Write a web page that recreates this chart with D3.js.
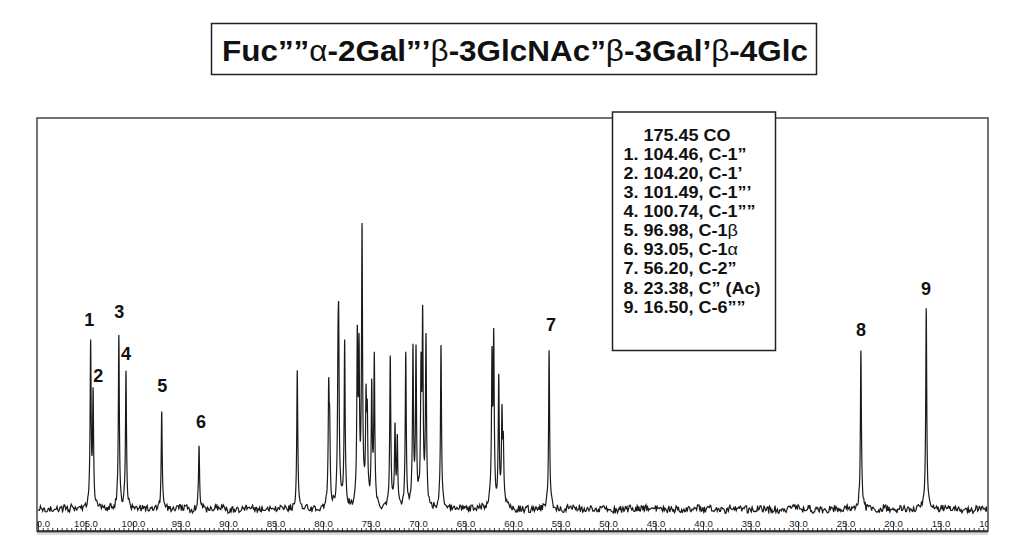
<!DOCTYPE html>
<html><head><meta charset="utf-8">
<script src="https://cdn.jsdelivr.net/npm/d3@7/dist/d3.min.js"></script>
<style>body{margin:0;background:#fff}svg{display:block}text{font-family:"Liberation Sans",Arial,sans-serif}</style>
</head><body>
<svg id="c" width="1024" height="558"></svg>
<script>
// ---------------- data ----------------
const titleParts = [["Fuc””",0],["α",1],["-2Gal”’",0],["β",1],["-3GlcNAc”",0],["β",1],["-3Gal’",0],["β",1],["-4Glc",0]];
const legendHeader = "175.45 CO";
const legendLines = [
  [["1. 104.46, C-1”",0]],
  [["2. 104.20, C-1’",0]],
  [["3. 101.49, C-1”’",0]],
  [["4. 100.74, C-1””",0]],
  [["5. 96.98, C-1",0],["β",1]],
  [["6. 93.05, C-1",0],["α",1]],
  [["7. 56.20, C-2”",0]],
  [["8. 23.38, C” (Ac)",0]],
  [["9. 16.50, C-6””",0]]
];
// peak positions (ppm) and intensities (arbitrary units)
const peakPpm = [104.46,104.20,101.49,100.74,96.98,93.05,
  82.71,79.40,79.30,78.35,78.42,77.72,76.39,76.21,75.89,75.47,75.34,74.87,74.60,
  72.92,72.42,72.18,71.29,70.53,70.21,69.68,69.51,69.16,67.58,
  62.21,62.03,61.50,61.16,61.02,56.20,23.38,16.50];
const peakHeight = [160,112,170,138,100,63,
  136,110,70,150,110,164,160,140,272,96,80,118,150,
  146,74,64,152,156,150,128,178,166,164,
  140,158,128,88,58,159,160,204];
const peakLabels = ["1","2","3","4","5","6","7","8","9"];
const labelPpm = [104.60,103.65,101.44,100.74,96.92,92.84,56.00,23.37,16.53];
const labelLevel = [183,127,191,149,117,81,178,173,214];
const tickLabels = ["110.0","105.0","100.0","95.0","90.0","85.0","80.0","75.0","70.0","65.0","60.0","55.0","50.0","45.0","40.0","35.0","30.0","25.0","20.0","15.0","10.0"];

// ---------------- layout ----------------
const svg = d3.select("#c");
const L=37, R=988, T=118, B=531;
const x = d3.scaleLinear().domain([110,10]).range([38,988]);
const y = d3.scaleLinear().domain([0,390]).range([509,119]);

// title
svg.append("rect").attr("x",211.5).attr("y",23.5).attr("width",605).attr("height",51)
  .attr("fill","none").attr("stroke","#222").attr("stroke-width",1.5);
const tt = svg.append("text").attr("x",222).attr("y",61).attr("font-size",30)
  .attr("font-weight","bold").attr("fill","#111");
titleParts.forEach(p=>tt.append("tspan").text(p[0]).attr("font-weight",p[1]?"normal":"bold"));
tt.attr("textLength",586).attr("lengthAdjust","spacingAndGlyphs");

// frame
svg.append("rect").attr("x",L).attr("y",T).attr("width",R-L).attr("height",B-T)
  .attr("fill","none").attr("stroke","#444").attr("stroke-width",1.5);

// spectrum
const HW = 0.06, HW2 = 0.2;
function noiseAt(ppm){
  const k = ppm*12, i = Math.floor(k), f = k-i;
  const h = j=>{const s=Math.sin(j*127.1+311.7)*43758.5453;return s-Math.floor(s)-0.5;};
  const k2 = ppm*2.5, i2=Math.floor(k2), f2=k2-i2;
  return (h(i)*(1-f)+h(i+1)*f)*7 + (h(i2+9000)*(1-f2)+h(i2+9001)*f2)*3.5;
}
const pts = [];
for(let p=110; p>=10; p-=0.01){
  let s=0;
  for(let j=0;j<peakPpm.length;j++){
    const d=p-peakPpm[j];
    s+=peakHeight[j]*(0.95*HW*HW/(d*d+HW*HW) + 0.05*HW2*HW2/(d*d+HW2*HW2));
  }
  pts.push([p, s+noiseAt(p)]);
}
svg.append("clipPath").attr("id","fc").append("rect").attr("x",L+1).attr("y",T).attr("width",R-L-2).attr("height",B-T-2);
svg.append("path").datum(pts).attr("clip-path","url(#fc)")
  .attr("d",d3.line().x(d=>x(d[0])).y(d=>y(d[1])))
  .attr("fill","none").attr("stroke","#1a1a1a").attr("stroke-width",1.2);

// peak labels
svg.append("g").selectAll("text").data(peakLabels).join("text")
  .attr("x",(d,i)=>x(labelPpm[i])).attr("y",(d,i)=>y(labelLevel[i]))
  .attr("text-anchor","middle").attr("font-size",18).attr("font-weight","bold").attr("fill","#111")
  .text(d=>d);

// axis
const minor = d3.axisTop(x).tickValues(d3.range(0,201).map(i=>110-i*0.5)).tickSize(3).tickFormat("").tickSizeOuter(0);
const major = d3.axisTop(x).tickValues(tickLabels.map(Number)).tickSize(9).tickPadding(-5).tickSizeOuter(0)
  .tickFormat((d,i)=>tickLabels[i]);
svg.append("clipPath").attr("id","ac").append("rect").attr("x",L).attr("y",-20).attr("width",R-L).attr("height",30);
const gMin = svg.append("g").attr("transform",`translate(0,${B})`).attr("clip-path","url(#ac)").call(minor);
const gMaj = svg.append("g").attr("transform",`translate(0,${B})`).attr("clip-path","url(#ac)").call(major);
[gMin,gMaj].forEach(g=>{g.select(".domain").remove(); g.selectAll("line").attr("stroke","#333").attr("stroke-width",1);});
gMaj.selectAll("text").attr("font-size",9.5).attr("fill","#222").attr("font-family","Liberation Sans, Arial, sans-serif");
svg.append("line").attr("x1",L).attr("x2",R).attr("y1",B+0.5).attr("y2",B+0.5).attr("stroke","#333").attr("stroke-width",2);
svg.append("line").attr("x1",L).attr("x2",R).attr("y1",B+3).attr("y2",B+3).attr("stroke","#bbb").attr("stroke-width",1);

// legend
svg.append("rect").attr("x",612.5).attr("y",112).attr("width",163).attr("height",238.5)
  .attr("fill","#fff").attr("stroke","#222").attr("stroke-width",1.5);
const lg = svg.append("g");
const fs = 16;
const h0 = lg.append("text").attr("x",643.5).attr("y",140.5).attr("font-size",fs).attr("font-weight","bold").attr("fill","#111").text(legendHeader);
const lines = legendLines.map((parts,i)=>{
  const t = lg.append("text").attr("x",623.5).attr("y",159.8+i*19.1).attr("font-size",fs).attr("font-weight","bold").attr("fill","#111");
  parts.forEach(p=>t.append("tspan").text(p[0]).attr("font-weight",p[1]?"normal":"bold"));
  return t;
});
const k = 123/lines[0].node().getComputedTextLength();
[h0,...lines].forEach(t=>{const len=t.node().getComputedTextLength(); t.attr("textLength",len*k).attr("lengthAdjust","spacingAndGlyphs");});
</script>
</body></html>
